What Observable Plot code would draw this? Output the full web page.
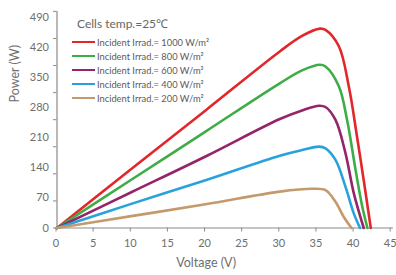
<!DOCTYPE html>
<html>
<head>
<meta charset="utf-8">
<script src="https://cdn.jsdelivr.net/npm/d3@7"></script>
<script src="https://cdn.jsdelivr.net/npm/@observablehq/plot@0.6"></script>
<style>
  html, body { margin: 0; padding: 0; background: #fff; }
  #wrap { position: relative; width: 396px; height: 275px; font-family: Lato, "Open Sans", sans-serif; }
  #legend { position: absolute; left: 72px; top: 14px; color: #666; }
  #legend .title { font-size: 12px; margin-left: 5px; height: 21px; line-height: 19px; }
  #legend .row { display: flex; align-items: center; height: 14px; font-size: 9.3px; color: #5a5a5a; }
  #legend .sw { width: 23px; height: 2px; margin-right: 2px; }
</style>
</head>
<body>
<div id="wrap"><div id="legend"></div></div>
<script>
// Tick labels
const xTicks = [0, 5, 10, 15, 20, 25, 30, 35, 40, 45];
const yTicks = [0, 70, 140, 210, 280, 350, 420, 490];

// Series names and colours
const seriesNames = [
  "Incident Irrad.= 1000 W/m²",
  "Incident Irrad.= 800 W/m²",
  "Incident Irrad.= 600 W/m²",
  "Incident Irrad.= 400 W/m²",
  "Incident Irrad.= 200 W/m²"
];
const seriesColors = ["#e2272b", "#3fad47", "#952468", "#28a2da", "#c49a6c"];

// Values (voltage V, power W)
const volt1000 = [0, 10, 20, 30, 33, 35.4, 36.15, 37.95, 39.3, 40.4, 41.3, 42.25];
const pow1000  = [0, 137, 273, 410, 446, 463, 460, 422, 328, 212, 111, 0];
const volt800  = [0, 10, 20, 30, 33, 35.4, 36.15, 37.95, 39.06, 40.2, 41.1, 41.8];
const pow800   = [0, 112, 224, 336, 366, 379, 375, 329, 251, 135, 50, 0];
const volt600  = [0, 10, 20, 30, 33, 35.3, 36.15, 37.5, 38.84, 39.96, 41.3];
const pow600   = [0, 83, 166, 253, 273, 284, 281, 251, 174, 81, 0];
const volt400  = [0, 10, 20, 30, 33, 35.3, 36.15, 37.5, 38.84, 39.96, 40.8];
const pow400   = [0, 56, 111, 168, 181, 189, 185, 158, 96, 34, 0];
const volt200  = [0, 10, 20, 30, 34.4, 36.15, 37.5, 38.6, 39.65];
const pow200   = [0, 27.5, 55, 84.5, 91, 88, 61, 26, 0];

const voltSets = [volt1000, volt800, volt600, volt400, volt200];
const powSets = [pow1000, pow800, pow600, pow400, pow200];

const rows = [];
seriesNames.forEach((name, i) => {
  voltSets[i].forEach((v, j) => rows.push({series: name, v, p: powSets[i][j]}));
});

// y tick marks of the original are spaced independently of the labels
const yTickMarks = d3.range(9).map(i => i * 503 / 8);

const axisColor = "#8a8a8a";
const textColor = "#6e6e6e";

const chart = Plot.plot({
  width: 396,
  height: 275,
  marginLeft: 56.5,
  marginRight: 5.3,
  marginTop: 16.5,
  marginBottom: 47.5,
  style: {fontFamily: "Lato, 'Open Sans', sans-serif", fontSize: "11px", color: textColor, background: "transparent", overflow: "visible"},
  x: {domain: [0, 45]},
  y: {domain: [0, 490]},
  color: {domain: seriesNames, range: seriesColors},
  marks: [
    Plot.axisX({ticks: xTicks, tickSize: 4, tickPadding: 7, stroke: axisColor, label: null, fill: textColor, dx: -1}),
    Plot.axisY({ticks: yTicks, tickSize: 0, tickPadding: 8, label: null, fill: textColor}),
    Plot.axisY({ticks: yTickMarks, tickSize: 3.5, tickFormat: () => "", stroke: axisColor, label: null}),
    Plot.ruleX([0], {y1: 0, y2: 503, stroke: axisColor, strokeWidth: 1.2}),
    Plot.ruleY([0], {x1: 0, x2: 45.3, stroke: axisColor, strokeWidth: 1.2}),
    Plot.line(rows, {x: "v", y: "p", z: "series", stroke: "series", strokeWidth: 2.6, curve: "catmull-rom"}),
    Plot.text(["Power (W)"], {text: d => d, frameAnchor: "left", rotate: -90, dx: -42.5, dy: -20, fontSize: 12.5, fill: textColor}),
    Plot.text(["Voltage (V)"], {text: d => d, frameAnchor: "bottom", dx: -18, dy: 39, fontSize: 12.5, fill: textColor})
  ]
});
document.getElementById("wrap").prepend(chart);

// Legend
const legend = document.getElementById("legend");
const t = document.createElement("div");
t.className = "title";
t.textContent = "Cells temp.=25℃";
legend.appendChild(t);
seriesNames.forEach((name, i) => {
  const r = document.createElement("div");
  r.className = "row";
  const sw = document.createElement("span");
  sw.className = "sw";
  sw.style.background = seriesColors[i];
  const lab = document.createElement("span");
  lab.textContent = name;
  r.appendChild(sw);
  r.appendChild(lab);
  legend.appendChild(r);
});
</script>
</body>
</html>
